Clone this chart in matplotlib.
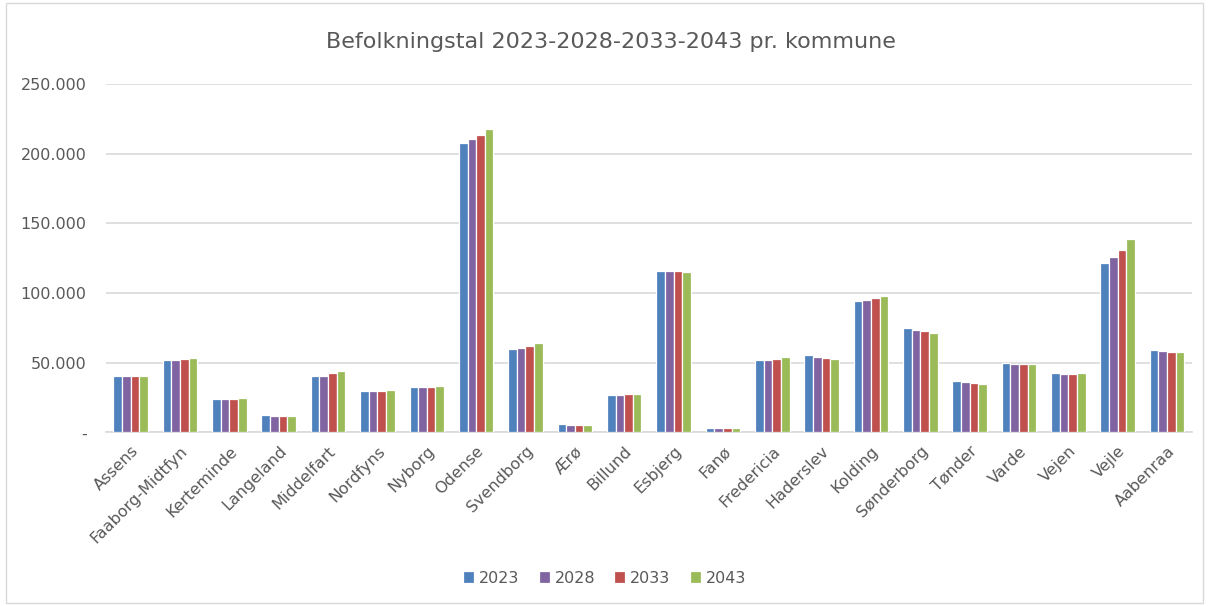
import matplotlib.pyplot as plt
import matplotlib.patches as patches
import numpy as np

kommuner = ["Assens", "Faaborg-Midtfyn", "Kerteminde", "Langeland", "Middelfart",
            "Nordfyns", "Nyborg", "Odense", "Svendborg", "Ærø", "Billund", "Esbjerg",
            "Fanø", "Fredericia", "Haderslev", "Kolding", "Sønderborg", "Tønder",
            "Varde", "Vejen", "Vejle", "Aabenraa"]
years = ["2023", "2028", "2033", "2043"]

pop_2023 = [40800, 52100, 23900, 12100, 40100, 29600, 32500, 208000, 59700, 5900,
            26700, 115600, 3400, 52100, 55600, 94300, 74700, 36500, 49900, 42700,
            121300, 59000]
pop_2028 = [40300, 52100, 23900, 11900, 40800, 29600, 32500, 210900, 60700, 5600,
            26700, 115600, 3300, 52100, 54200, 95000, 73300, 35800, 49200, 42000,
            126100, 58300]
pop_2033 = [40300, 52800, 23900, 11800, 42300, 29600, 32500, 213500, 62100, 5500,
            27500, 115600, 3300, 52800, 53500, 96500, 72400, 35100, 49200, 42000,
            131100, 57600]
pop_2043 = [40800, 53500, 24600, 11800, 44200, 30300, 33200, 217500, 64000, 5400,
            27500, 114900, 3300, 54200, 52800, 97900, 71600, 34400, 49200, 42700,
            138700, 57600]

series = [pop_2023, pop_2028, pop_2033, pop_2043]
colors = ["#4F81BD", "#8064A2", "#C0504D", "#9BBB59"]
text_gray = "#595959"

fig = plt.figure(figsize=(12.09, 6.06), dpi=100)
ax = fig.add_axes([0.0877, 0.2866, 0.898, 0.5745])

x = np.arange(len(kommuner))
w = 0.175
for i, vals in enumerate(series):
    ax.bar(x + (i - 1.5) * w, vals, w, color=colors[i], edgecolor="white",
           linewidth=0.9, label=years[i], zorder=3)

ax.set_xlim(-0.5, len(kommuner) - 0.5)
ax.set_ylim(0, 250000)
yt = np.arange(0, 250001, 50000)
ax.set_yticks(yt)
ax.set_yticklabels(["-"] + [f"{v:,}".replace(",", ".") for v in yt[1:]],
                   color=text_gray, fontsize=11.5)
ax.set_xticks(x)
ax.set_xticklabels(kommuner, rotation=45, ha="right", rotation_mode="anchor",
                   color=text_gray, fontsize=11.5)
ax.tick_params(axis="y", length=0, pad=14)
ax.tick_params(axis="x", length=0, pad=8)
ax.grid(axis="y", color="#D9D9D9", linewidth=1.2, zorder=0)
for s in ["top", "right", "left"]:
    ax.spines[s].set_visible(False)
ax.spines["bottom"].set_color("#D9D9D9")
ax.spines["bottom"].set_linewidth(1.2)

fig.text(0.505, 0.93, "Befolkningstal 2023-2028-2033-2043 pr. kommune",
         ha="center", va="center", fontsize=16, color=text_gray)

fig.legend(loc="center", bbox_to_anchor=(0.5, 0.046), ncol=4, frameon=False,
           fontsize=11.5, handlelength=0.7, handleheight=0.7, columnspacing=1.2,
           handletextpad=0.3, labelcolor=text_gray)

fig.patches.append(patches.Rectangle((0.005, 0.005), 0.99, 0.99, fill=False,
                                     edgecolor="#D9D9D9", linewidth=1,
                                     transform=fig.transFigure))

fig.savefig("out.png", dpi=100)
